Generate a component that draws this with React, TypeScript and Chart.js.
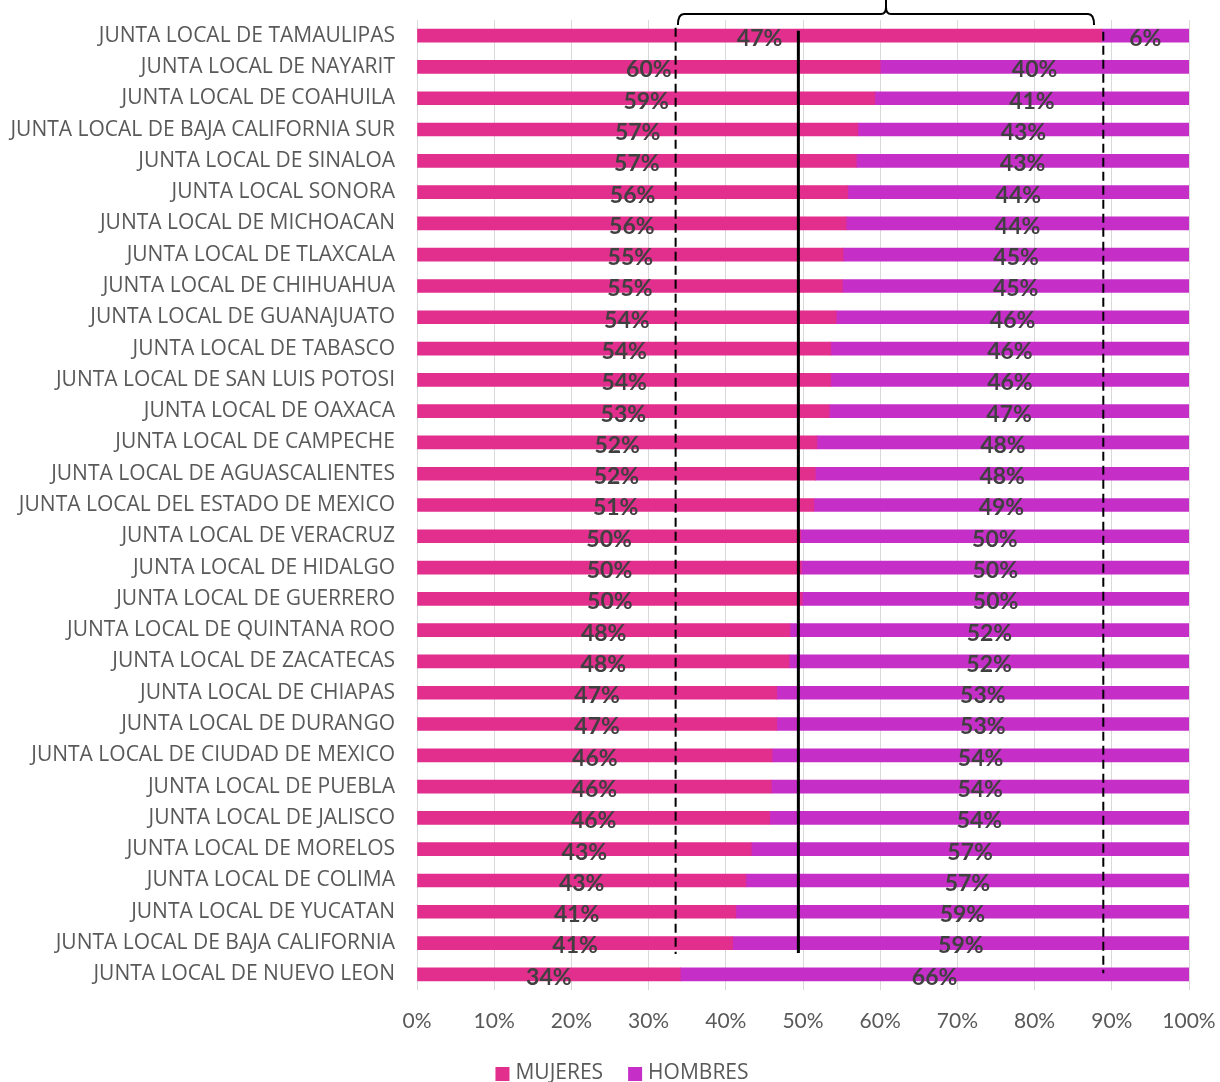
import React, { useEffect, useRef } from "react";
import { Chart, registerables } from "chart.js";

Chart.register(...registerables);

const categories = [
  "JUNTA LOCAL DE TAMAULIPAS",
  "JUNTA LOCAL DE NAYARIT",
  "JUNTA LOCAL DE COAHUILA",
  "JUNTA LOCAL DE BAJA CALIFORNIA SUR",
  "JUNTA LOCAL DE SINALOA",
  "JUNTA LOCAL SONORA",
  "JUNTA LOCAL DE MICHOACAN",
  "JUNTA LOCAL DE TLAXCALA",
  "JUNTA LOCAL DE CHIHUAHUA",
  "JUNTA LOCAL DE GUANAJUATO",
  "JUNTA LOCAL DE TABASCO",
  "JUNTA LOCAL DE SAN LUIS POTOSI",
  "JUNTA LOCAL DE OAXACA",
  "JUNTA LOCAL DE CAMPECHE",
  "JUNTA LOCAL DE AGUASCALIENTES",
  "JUNTA LOCAL DEL ESTADO DE MEXICO",
  "JUNTA LOCAL DE VERACRUZ",
  "JUNTA LOCAL DE HIDALGO",
  "JUNTA LOCAL DE GUERRERO",
  "JUNTA LOCAL DE QUINTANA ROO",
  "JUNTA LOCAL DE ZACATECAS",
  "JUNTA LOCAL DE CHIAPAS",
  "JUNTA LOCAL DE DURANGO",
  "JUNTA LOCAL DE CIUDAD DE MEXICO",
  "JUNTA LOCAL DE PUEBLA",
  "JUNTA LOCAL DE JALISCO",
  "JUNTA LOCAL DE MORELOS",
  "JUNTA LOCAL DE COLIMA",
  "JUNTA LOCAL DE YUCATAN",
  "JUNTA LOCAL DE BAJA CALIFORNIA",
  "JUNTA LOCAL DE NUEVO LEON",
];

// Percentages per junta (Mujeres / Hombres); each row is stacked to 100%
const mujeres = [
  47, 60.0, 59.3, 57.1, 56.9, 55.8, 55.6, 55.2, 55.1, 54.3, 53.6, 53.6, 53.4,
  51.8, 51.6, 51.4, 49.7, 49.8, 49.9, 48.3, 48.2, 46.6, 46.6, 46.0, 45.9, 45.7,
  43.3, 42.6, 41.3, 40.9, 34.1,
];
const hombres = [
  6, 40.0, 40.7, 42.9, 43.1, 44.2, 44.4, 44.8, 44.9, 45.7, 46.4, 46.4, 46.6,
  48.2, 48.4, 48.6, 50.3, 50.2, 50.1, 51.7, 51.8, 53.4, 53.4, 54.0, 54.1, 54.3,
  56.7, 57.4, 58.7, 59.1, 65.9,
];

const xTicks = [0, 10, 20, 30, 40, 50, 60, 70, 80, 90, 100];

// Reference marks on the percentage axis
const promedioLine = 49.4;
const rangoMin = 33.5;
const rangoMax = 88.9;
const llaveDesde = 33.8;
const llaveHasta = 87.7;
const llavePico = 60.75;

const COLOR_MUJERES = "#E22E8C";
const COLOR_HOMBRES = "#C52FC8";
const TEXT_GRAY = "#595959";

const shares = (a: number[], b: number[]) =>
  a.map((v, i) => (v / (v + b[i])) * 100);

const valueLabels = {
  id: "valueLabels",
  afterDatasetsDraw(chart: any) {
    const { ctx } = chart;
    const raw = [mujeres, hombres];
    ctx.save();
    ctx.font = "bold 23px Lato";
    ctx.fillStyle = "#404040";
    ctx.textAlign = "center";
    ctx.textBaseline = "middle";
    chart.data.datasets.forEach((_: any, di: number) => {
      const meta = chart.getDatasetMeta(di);
      meta.data.forEach((bar: any, i: number) => {
        const cx = (bar.x + bar.base) / 2;
        ctx.fillText(Math.round(raw[di][i]) + "%", cx, bar.y + 3);
      });
    });
    ctx.restore();
  },
};

const referenceMarks = {
  id: "referenceMarks",
  afterDatasetsDraw(chart: any) {
    const { ctx, scales } = chart;
    const x = scales.x;
    const y = scales.y;
    const first = y.getPixelForValue(0);
    const last = y.getPixelForValue(categories.length - 1);
    const penult = y.getPixelForValue(categories.length - 2);
    ctx.save();
    ctx.strokeStyle = "#000000";

    // average line
    const xp = x.getPixelForValue(promedioLine);
    ctx.lineWidth = 3;
    ctx.beginPath();
    ctx.moveTo(xp, first - 5);
    ctx.lineTo(xp, penult + 10);
    ctx.stroke();

    // range lines
    ctx.lineWidth = 2;
    ctx.setLineDash([9, 5]);
    const xl = x.getPixelForValue(rangoMin);
    ctx.beginPath();
    ctx.moveTo(xl, first - 8);
    ctx.lineTo(xl, penult + 11);
    ctx.stroke();
    const xr = x.getPixelForValue(rangoMax);
    ctx.beginPath();
    ctx.moveTo(xr, first - 4);
    ctx.lineTo(xr, last - 1);
    ctx.stroke();
    ctx.setLineDash([]);

    // brace over the range
    const L = x.getPixelForValue(llaveDesde);
    const R = x.getPixelForValue(llaveHasta);
    const M = x.getPixelForValue(llavePico);
    const yb = 14;
    ctx.lineWidth = 2;
    ctx.beginPath();
    ctx.moveTo(L, yb + 11);
    ctx.quadraticCurveTo(L, yb, L + 6, yb);
    ctx.lineTo(M - 5, yb);
    ctx.quadraticCurveTo(M, yb, M, yb - 7);
    ctx.lineTo(M, 0);
    ctx.moveTo(M, yb - 7);
    ctx.quadraticCurveTo(M, yb, M + 5, yb);
    ctx.lineTo(R - 6, yb);
    ctx.quadraticCurveTo(R, yb, R, yb + 11);
    ctx.stroke();
    ctx.restore();
  },
};

// Legend drawn under the axis, centred a little right of the canvas middle
const bottomLegend = {
  id: "bottomLegend",
  afterDraw(chart: any) {
    const { ctx } = chart;
    const items = chart.data.datasets.map((d: any) => ({
      text: d.label as string,
      color: d.backgroundColor as string,
    }));
    const box = 14;
    const boxGap = 6;
    const itemGap = 25;
    const cy = 1073;
    ctx.save();
    ctx.font = "21px 'Open Sans'";
    ctx.textBaseline = "middle";
    const widths = items.map((it: any) => box + boxGap + ctx.measureText(it.text).width);
    const total = widths.reduce((a: number, b: number) => a + b, 0) + itemGap * (items.length - 1);
    let x = 622 - total / 2;
    items.forEach((it: any, i: number) => {
      ctx.fillStyle = it.color;
      ctx.fillRect(x, cy - box / 2 + 1, box, box);
      ctx.fillStyle = TEXT_GRAY;
      ctx.fillText(it.text, x + box + boxGap, cy);
      x += widths[i] + itemGap;
    });
    ctx.restore();
  },
};

export default function App() {
  const ref = useRef<HTMLCanvasElement | null>(null);

  useEffect(() => {
    if (!ref.current) return;
    const chart = new Chart(ref.current, {
      type: "bar",
      data: {
        labels: categories,
        datasets: [
          {
            label: "MUJERES",
            data: shares(mujeres, hombres),
            backgroundColor: COLOR_MUJERES,
            barThickness: 13,
          },
          {
            label: "HOMBRES",
            data: shares(hombres, mujeres),
            backgroundColor: COLOR_HOMBRES,
            barThickness: 13,
          },
        ],
      },
      options: {
        indexAxis: "y",
        responsive: false,
        animation: false,
        layout: { padding: { top: 20, left: 6, right: 31, bottom: 39 } },
        plugins: {
          tooltip: { enabled: false },
          legend: { display: false },
        },
        scales: {
          x: {
            stacked: true,
            min: 0,
            max: 100,
            afterBuildTicks: (axis: any) => {
              axis.ticks = xTicks.map((v) => ({ value: v }));
            },
            afterFit: (axis: any) => {
              axis.height = 53;
              axis.paddingLeft = 0;
              axis.paddingRight = 0;
            },
            grid: { color: "#D9D9D9", drawTicks: false },
            border: { display: false },
            ticks: {
              padding: 19,
              color: TEXT_GRAY,
              font: { family: "Lato", size: 21 },
              callback: (v: any) => v + "%",
            },
          },
          y: {
            stacked: true,
            grid: { display: false, drawTicks: false },
            border: { display: false },
            afterFit: (axis: any) => {
              axis.width = 411;
              axis.paddingTop = 0;
              axis.paddingBottom = 0;
            },
            ticks: {
              padding: 22,
              color: TEXT_GRAY,
              font: { family: "Open Sans", size: 21 },
            },
          },
        },
      },
      plugins: [valueLabels, referenceMarks, bottomLegend],
    });
    return () => chart.destroy();
  }, []);

  return (
    <div style={{ position: "absolute", left: 0, top: 0, width: 1220, height: 1082, background: "#fff" }}>
      <canvas ref={ref} width={1220} height={1082} style={{ display: "block" }} />
    </div>
  );
}
